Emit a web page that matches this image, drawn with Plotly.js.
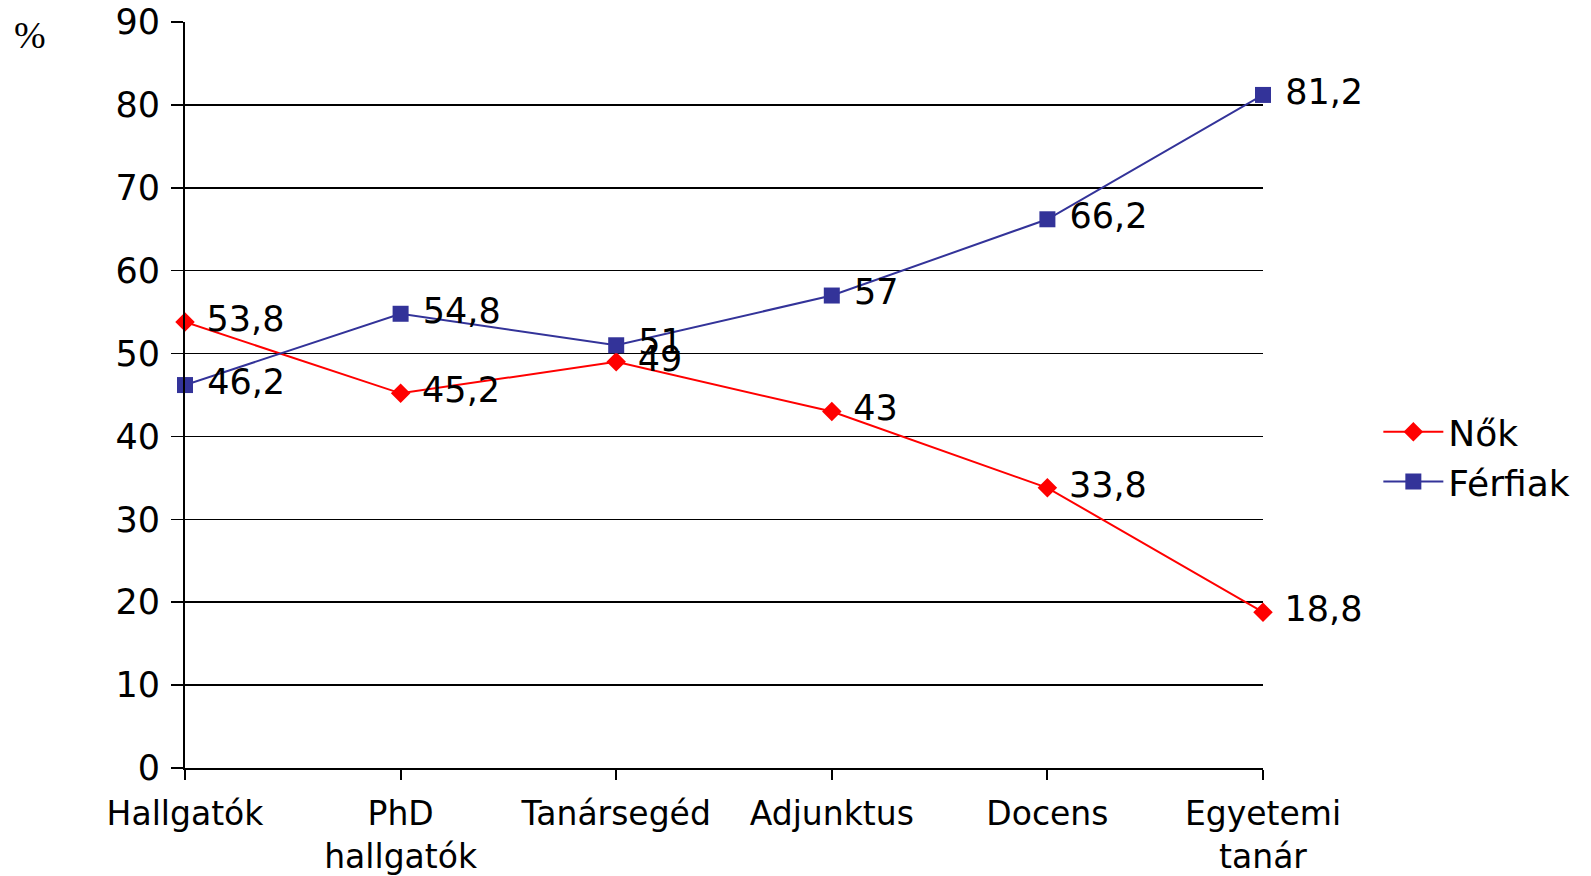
<!DOCTYPE html>
<html>
<head>
<meta charset="utf-8">
<script src="https://cdn.plot.ly/plotly-3.0.1.min.js"></script>
<style>html,body{margin:0;padding:0;background:#fff;}#chart{width:1591px;height:876px;}</style>
</head>
<body>
<div id="chart"></div>
<script>
const categories = ["Hallgatók", "PhD<br>hallgatók", "Tanársegéd", "Adjunktus", "Docens", "Egyetemi<br>tanár"];
const nokValues = [53.8, 45.2, 49, 43, 33.8, 18.8];
const ferfiakValues = [46.2, 54.8, 51, 57, 66.2, 81.2];
const yTicks = [0, 10, 20, 30, 40, 50, 60, 70, 80, 90];

const fmt = v => " " + String(v).replace('.', ',');
const FONT = "DejaVu Sans, Arial, sans-serif";

const traces = [
  {
    x: categories, y: nokValues, name: "Nők", type: "scatter", mode: "lines+markers+text",
    line: {color: "#FF0000", width: 2},
    marker: {symbol: "diamond", size: 15, color: "#FF0000"},
    text: nokValues.map(fmt), textposition: "middle right",
    textfont: {family: FONT, size: 35, color: "#000"},
    cliponaxis: false
  },
  {
    x: categories, y: ferfiakValues, name: "Férfiak", type: "scatter", mode: "lines+markers+text",
    line: {color: "#333399", width: 2},
    marker: {symbol: "square", size: 16, color: "#333399"},
    text: ferfiakValues.map(fmt), textposition: "middle right",
    textfont: {family: FONT, size: 35, color: "#000"},
    cliponaxis: false
  }
];

const layout = {
  width: 1591, height: 876,
  margin: {l: 185, r: 328, t: 22, b: 108},
  paper_bgcolor: "#fff", plot_bgcolor: "#fff",
  font: {family: FONT, size: 32, color: "#000"},
  xaxis: {
    type: "category", range: [0, 5],
    showgrid: false, zeroline: false,
    showline: true, linecolor: "#000", linewidth: 2,
    ticks: "outside", ticklen: 10, tickwidth: 2, tickcolor: "#000",
    ticklabelstandoff: 5,
    tickfont: {family: FONT, size: 33, color: "#000"}
  },
  yaxis: {
    range: [0, 90], tickvals: yTicks, ticktext: yTicks.map(String),
    showgrid: true, gridcolor: "#000", gridwidth: 1.5, zeroline: false,
    showline: true, linecolor: "#000", linewidth: 2,
    ticks: "outside", ticklen: 12, tickwidth: 1.5, tickcolor: "#000",
    ticklabelstandoff: 4,
    tickfont: {family: FONT, size: 35, color: "#000"}
  },
  legend: {
    x: 1.107, y: 0.417, xanchor: "left", yanchor: "middle",
    font: {family: FONT, size: 36, color: "#000"},
    bgcolor: "rgba(0,0,0,0)", itemwidth: 60, tracegroupgap: 0
  },
  showlegend: true,
  annotations: [
    {text: "%", xref: "paper", yref: "paper", x: -0.144, y: 0.982, xanchor: "center", yanchor: "middle",
     showarrow: false, font: {family: "Liberation Serif, serif", size: 38, color: "#000"}}
  ]
};

Plotly.newPlot("chart", traces, layout, {displayModeBar: false, staticPlot: true});
</script>
</body>
</html>
